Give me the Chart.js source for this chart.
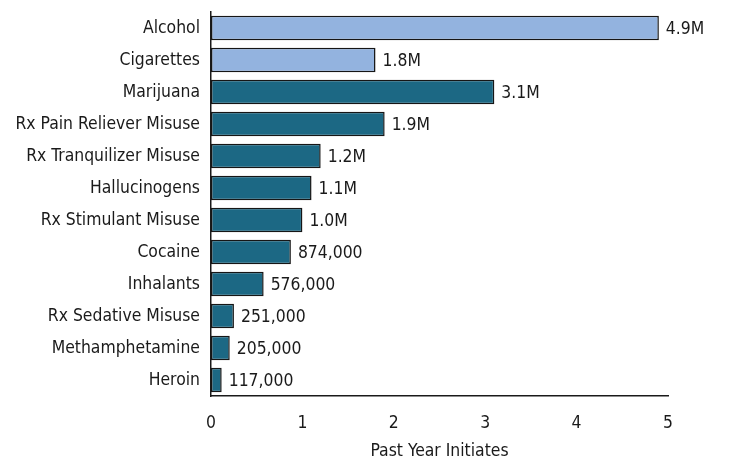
<!DOCTYPE html>
<html>
<head>
<meta charset="utf-8">
<script src="https://cdn.jsdelivr.net/npm/chart.js@4/dist/chart.umd.min.js"></script>
<style>
html,body{margin:0;padding:0;background:#fff;}
#wrap{width:732px;height:459px;}
</style>
</head>
<body>
<div id="wrap"><canvas id="c" width="732" height="459"></canvas></div>
<script>
const categories = ["Alcohol","Cigarettes","Marijuana","Rx Pain Reliever Misuse","Rx Tranquilizer Misuse","Hallucinogens","Rx Stimulant Misuse","Cocaine","Inhalants","Rx Sedative Misuse","Methamphetamine","Heroin"];
const values = [4.9, 1.8, 3.1, 1.9, 1.2, 1.1, 1.0, 0.874, 0.576, 0.251, 0.205, 0.117];
const valueLabels = ["4.9M","1.8M","3.1M","1.9M","1.2M","1.1M","1.0M","874,000","576,000","251,000","205,000","117,000"];
const xTicks = [0,1,2,3,4,5];
const axisTitle = "Past Year Initiates";

const LIGHT = "#93b3df", DARK = "#1c6884";
const FONT = "'DejaVu Sans Condensed', 'Liberation Sans Narrow', sans-serif";
const FS = 17.4;
const colors = categories.map((c,i)=> i<2 ? LIGHT : DARK);

const labelPlugin = {
  id:'valueLabels',
  afterDatasetsDraw(chart){
    const ctx = chart.ctx;
    const meta = chart.getDatasetMeta(0);
    ctx.save();
    ctx.font = FS + "px " + FONT;
    ctx.fillStyle = "#1a1a1a";
    ctx.textBaseline = "middle";
    ctx.textAlign = "left";
    meta.data.forEach((el,i)=>{
      ctx.fillText(valueLabels[i], el.x + 7, el.y + 1);
    });
    ctx.restore();
  }
};

new Chart(document.getElementById('c'), {
  type:'bar',
  data:{
    labels: categories,
    datasets:[{
      data: values,
      backgroundColor: colors,
      borderColor: "#161616",
      borderWidth: 1.5,
      borderSkipped: false,
      barPercentage: 0.76,
      categoryPercentage: 1.0
    }]
  },
  options:{
    indexAxis:'y',
    responsive:false,
    animation:false,
    devicePixelRatio: 1,
    layout:{padding:{top:12, right:64, bottom:0, left:0}},
    plugins:{legend:{display:false}, tooltip:{enabled:false}},
    scales:{
      x:{
        min:0, max:5,
        afterBuildTicks(axis){ axis.ticks = xTicks.map(v=>({value:v})); },
        afterFit(axis){ axis.height = 63; axis.paddingLeft = 0; axis.paddingRight = 0; },
        grid:{display:false, drawTicks:false},
        border:{display:true, color:"#1a1a1a", width:1.5},
        ticks:{color:"#1a1a1a", font:{family:FONT, size:FS}, padding:17},
        title:{display:true, text:axisTitle, color:"#1a1a1a", font:{family:FONT, size:FS}, padding:{top:4, bottom:-3}}
      },
      y:{
        afterFit(axis){ axis.width = 211; axis.paddingTop = 0; axis.paddingBottom = 0; },
        grid:{display:false, drawTicks:false},
        border:{display:true, color:"#1a1a1a", width:1.5},
        ticks:{color:"#1a1a1a", font:{family:FONT, size:FS}, padding:11}
      }
    }
  },
  plugins:[labelPlugin]
});
</script>
</body>
</html>
